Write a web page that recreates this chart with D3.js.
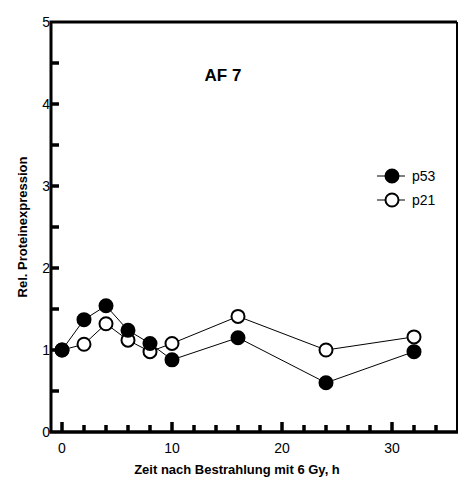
<!DOCTYPE html>
<html>
<head>
<meta charset="utf-8">
<script src="https://cdn.jsdelivr.net/npm/d3@7"></script>
<style>
  body { margin: 0; background: #fff; }
  text { font-family: "Liberation Sans", Arial, sans-serif; fill: #000; }
</style>
</head>
<body>
<div id="chart"></div>
<script>
// Daten
const zeit = [0, 2, 4, 6, 8, 10, 16, 24, 32];
const p53 = [1.0, 1.37, 1.54, 1.24, 1.08, 0.88, 1.15, 0.6, 0.98];
const p21 = [1.0, 1.07, 1.32, 1.12, 0.98, 1.08, 1.41, 1.0, 1.16];
const serien = ["p53", "p21"];
const xTicksMajor = [0, 10, 20, 30];
const yTicksMajor = [0, 1, 2, 3, 4, 5];

const W = 458, H = 479;
const svg = d3.select("#chart").append("svg")
    .attr("width", W)
    .attr("height", H);

const x = d3.scaleLinear().domain([-1, 36]).range([51, 458]);
const y = d3.scaleLinear().domain([0, 5]).range([432, 22]);

// Rahmen
const rahmen = svg.append("g").attr("fill", "none").attr("stroke", "#000");
rahmen.append("path")
   .attr("d", `M${x(-1)},${y(0)}V${y(5)}H${x(36) - 1}`)
   .attr("stroke-width", 3);
rahmen.append("path")
   .attr("d", `M${x(36) - 1},${y(5)}V${y(0)}`)
   .attr("stroke-width", 2);
rahmen.append("path")
   .attr("d", `M${x(-1) - 1.5},${y(0)}H${x(36)}`)
   .attr("stroke-width", 3.5);

// x-Ticks (nach innen)
svg.append("g").selectAll("path").data(d3.range(0, 36, 2)).enter().append("path")
   .attr("d", d => `M${x(d)},${y(0)}V${y(0) - (xTicksMajor.includes(d) ? 10 : 7)}`)
   .attr("stroke", "#000").attr("stroke-width", 3.5);
svg.selectAll(null).data(xTicksMajor).enter().append("text")
   .attr("x", d => x(d)).attr("y", y(0) + 21)
   .attr("text-anchor", "middle").attr("font-size", 14)
   .text(d => d);

// y-Ticks
svg.append("g").selectAll("path").data(d3.range(0.5, 5, 0.5)).enter().append("path")
   .attr("d", d => `M${x(-1)},${y(d)}H${x(-1) + 8}`)
   .attr("stroke", "#000").attr("stroke-width", 3.5);
svg.selectAll(null).data(yTicksMajor).enter().append("text")
   .attr("x", x(-1) - 1).attr("y", d => y(d)).attr("dy", "0.36em")
   .attr("text-anchor", "end").attr("font-size", 14)
   .text(d => d);

// Linien und Punkte
const line = d3.line().x(d => x(d[0])).y(d => y(d[1]));
const daten = [
  { name: "p53", werte: zeit.map((t, i) => [t, p53[i]]), fill: "#000" },
  { name: "p21", werte: zeit.map((t, i) => [t, p21[i]]), fill: "#fff" }
];

daten.forEach(s => {
  svg.append("path").datum(s.werte)
     .attr("d", line).attr("fill", "none")
     .attr("stroke", "#000").attr("stroke-width", 1);
});
// p21 zuerst, p53 darüber
[daten[1], daten[0]].forEach(s => {
  svg.append("g").selectAll("circle").data(s.werte).enter().append("circle")
     .attr("cx", d => x(d[0])).attr("cy", d => y(d[1]))
     .attr("r", 6.5)
     .attr("fill", s.fill).attr("stroke", "#000").attr("stroke-width", 2);
});

// Legende
const leg = svg.append("g");
daten.forEach((s, i) => {
  const ly = 176 + i * 24;
  leg.append("path").attr("d", `M377,${ly}H405`)
     .attr("stroke", "#000").attr("stroke-width", 1);
  leg.append("circle").attr("cx", 392).attr("cy", ly).attr("r", 6.5)
     .attr("fill", s.fill).attr("stroke", "#000").attr("stroke-width", 2);
  leg.append("text").attr("x", 412).attr("y", ly).attr("dy", "0.36em")
     .attr("font-size", 14).text(serien[i]);
});

// Titel und Achsenbeschriftungen
svg.append("text").attr("x", 223).attr("y", 81)
   .attr("text-anchor", "middle").attr("font-size", 17).attr("font-weight", "bold")
   .text("AF 7");
svg.append("text").attr("x", 237).attr("y", 474)
   .attr("text-anchor", "middle").attr("font-size", 13).attr("font-weight", "bold")
   .text("Zeit nach Bestrahlung mit 6 Gy, h");
svg.append("text")
   .attr("transform", "translate(27,227) rotate(-90)")
   .attr("text-anchor", "middle").attr("font-size", 13).attr("font-weight", "bold")
   .text("Rel. Proteinexpression");
</script>
</body>
</html>
